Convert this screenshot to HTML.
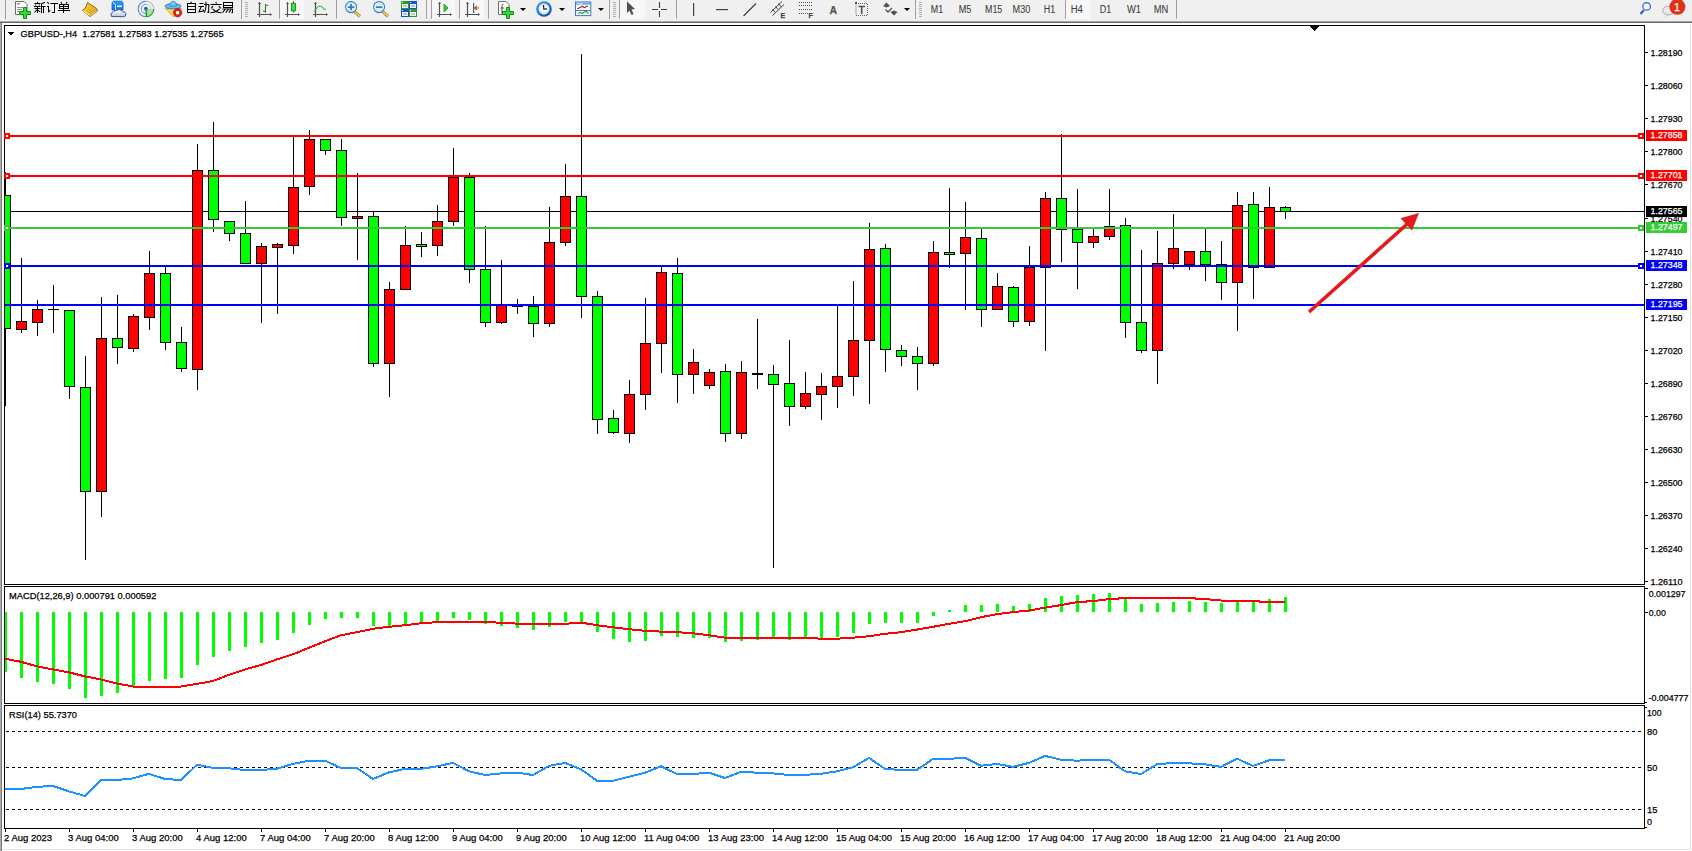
<!DOCTYPE html><html><head><meta charset="utf-8"><style>html,body{margin:0;padding:0;background:#fff;width:1692px;height:851px;overflow:hidden}svg{display:block}text{font-family:"Liberation Sans",sans-serif;stroke-width:0.25px}</style></head><body>
<svg stroke-linejoin="miter" width="1692" height="851" viewBox="0 0 1692 851" shape-rendering="crispEdges">
<rect x="0" y="0" width="1692" height="851" fill="#ffffff"/>
<rect x="0" y="0" width="1692" height="21" fill="#f0f0f0"/>
<rect x="0" y="21" width="1692" height="1" fill="#a8a8a8"/>
<rect x="0" y="22" width="1692" height="1" fill="#6a6a6a"/>
<rect x="0" y="23" width="1" height="828" fill="#aaaaaa"/><rect x="1" y="23" width="1" height="828" fill="#7c7c7c"/>
<rect x="1690" y="23" width="1" height="827" fill="#e3e3e3"/>
<rect x="2" y="849" width="1689" height="1" fill="#e3e3e3"/>
<rect x="4" y="25" width="1641" height="1" fill="#000"/>
<rect x="4" y="584" width="1641" height="1" fill="#000"/>
<rect x="4" y="25" width="1" height="560" fill="#000"/>
<rect x="1644" y="25" width="1" height="560" fill="#000"/>
<rect x="4" y="586" width="1641" height="1" fill="#000"/>
<rect x="4" y="703" width="1641" height="1" fill="#000"/>
<rect x="4" y="586" width="1" height="118" fill="#000"/>
<rect x="1644" y="586" width="1" height="118" fill="#000"/>
<rect x="4" y="705" width="1641" height="1" fill="#000"/>
<rect x="4" y="828" width="1641" height="1" fill="#000"/>
<rect x="4" y="705" width="1" height="124" fill="#000"/>
<rect x="1644" y="705" width="1" height="124" fill="#000"/>
<rect x="5" y="211" width="1639" height="1" fill="#000000"/>
<g>
<rect x="5" y="172" width="1" height="234" fill="#000"/>
<rect x="0" y="195" width="11" height="134" fill="#000"/>
<rect x="1" y="196" width="9" height="132" fill="#00ff00"/>
<rect x="21" y="258" width="1" height="75" fill="#000"/>
<rect x="16" y="321" width="11" height="9" fill="#000"/>
<rect x="17" y="322" width="9" height="7" fill="#ff0000"/>
<rect x="37" y="300" width="1" height="36" fill="#000"/>
<rect x="32" y="309" width="11" height="14" fill="#000"/>
<rect x="33" y="310" width="9" height="12" fill="#ff0000"/>
<rect x="53" y="285" width="1" height="48" fill="#000"/>
<rect x="48" y="309" width="11" height="1" fill="#000"/>
<rect x="69" y="310" width="1" height="89" fill="#000"/>
<rect x="64" y="310" width="11" height="77" fill="#000"/>
<rect x="65" y="311" width="9" height="75" fill="#00ff00"/>
<rect x="85" y="356" width="1" height="204" fill="#000"/>
<rect x="80" y="387" width="11" height="105" fill="#000"/>
<rect x="81" y="388" width="9" height="103" fill="#00ff00"/>
<rect x="101" y="297" width="1" height="220" fill="#000"/>
<rect x="96" y="338" width="11" height="154" fill="#000"/>
<rect x="97" y="339" width="9" height="152" fill="#ff0000"/>
<rect x="117" y="295" width="1" height="69" fill="#000"/>
<rect x="112" y="338" width="11" height="10" fill="#000"/>
<rect x="113" y="339" width="9" height="8" fill="#00ff00"/>
<rect x="133" y="314" width="1" height="38" fill="#000"/>
<rect x="128" y="316" width="11" height="33" fill="#000"/>
<rect x="129" y="317" width="9" height="31" fill="#ff0000"/>
<rect x="149" y="251" width="1" height="79" fill="#000"/>
<rect x="144" y="273" width="11" height="45" fill="#000"/>
<rect x="145" y="274" width="9" height="43" fill="#ff0000"/>
<rect x="165" y="266" width="1" height="84" fill="#000"/>
<rect x="160" y="273" width="11" height="70" fill="#000"/>
<rect x="161" y="274" width="9" height="68" fill="#00ff00"/>
<rect x="181" y="327" width="1" height="45" fill="#000"/>
<rect x="176" y="342" width="11" height="27" fill="#000"/>
<rect x="177" y="343" width="9" height="25" fill="#00ff00"/>
<rect x="197" y="144" width="1" height="246" fill="#000"/>
<rect x="192" y="170" width="11" height="200" fill="#000"/>
<rect x="193" y="171" width="9" height="198" fill="#ff0000"/>
<rect x="213" y="122" width="1" height="110" fill="#000"/>
<rect x="208" y="170" width="11" height="50" fill="#000"/>
<rect x="209" y="171" width="9" height="48" fill="#00ff00"/>
<rect x="229" y="221" width="1" height="20" fill="#000"/>
<rect x="224" y="221" width="11" height="13" fill="#000"/>
<rect x="225" y="222" width="9" height="11" fill="#00ff00"/>
<rect x="245" y="201" width="1" height="63" fill="#000"/>
<rect x="240" y="233" width="11" height="31" fill="#000"/>
<rect x="241" y="234" width="9" height="29" fill="#00ff00"/>
<rect x="261" y="243" width="1" height="80" fill="#000"/>
<rect x="256" y="246" width="11" height="18" fill="#000"/>
<rect x="257" y="247" width="9" height="16" fill="#ff0000"/>
<rect x="277" y="243" width="1" height="71" fill="#000"/>
<rect x="272" y="244" width="11" height="4" fill="#000"/>
<rect x="273" y="245" width="9" height="2" fill="#ff0000"/>
<rect x="293" y="136" width="1" height="118" fill="#000"/>
<rect x="288" y="187" width="11" height="59" fill="#000"/>
<rect x="289" y="188" width="9" height="57" fill="#ff0000"/>
<rect x="309" y="130" width="1" height="65" fill="#000"/>
<rect x="304" y="139" width="11" height="48" fill="#000"/>
<rect x="305" y="140" width="9" height="46" fill="#ff0000"/>
<rect x="325" y="139" width="1" height="16" fill="#000"/>
<rect x="320" y="139" width="11" height="12" fill="#000"/>
<rect x="321" y="140" width="9" height="10" fill="#00ff00"/>
<rect x="341" y="139" width="1" height="87" fill="#000"/>
<rect x="336" y="150" width="11" height="68" fill="#000"/>
<rect x="337" y="151" width="9" height="66" fill="#00ff00"/>
<rect x="357" y="173" width="1" height="87" fill="#000"/>
<rect x="352" y="216" width="11" height="3" fill="#000"/>
<rect x="353" y="217" width="9" height="1" fill="#ff0000"/>
<rect x="373" y="212" width="1" height="155" fill="#000"/>
<rect x="368" y="216" width="11" height="148" fill="#000"/>
<rect x="369" y="217" width="9" height="146" fill="#00ff00"/>
<rect x="389" y="282" width="1" height="115" fill="#000"/>
<rect x="384" y="289" width="11" height="75" fill="#000"/>
<rect x="385" y="290" width="9" height="73" fill="#ff0000"/>
<rect x="405" y="226" width="1" height="64" fill="#000"/>
<rect x="400" y="245" width="11" height="45" fill="#000"/>
<rect x="401" y="246" width="9" height="43" fill="#ff0000"/>
<rect x="421" y="232" width="1" height="25" fill="#000"/>
<rect x="416" y="244" width="11" height="3" fill="#000"/>
<rect x="417" y="245" width="9" height="1" fill="#00ff00"/>
<rect x="437" y="205" width="1" height="51" fill="#000"/>
<rect x="432" y="221" width="11" height="25" fill="#000"/>
<rect x="433" y="222" width="9" height="23" fill="#ff0000"/>
<rect x="453" y="148" width="1" height="78" fill="#000"/>
<rect x="448" y="177" width="11" height="45" fill="#000"/>
<rect x="449" y="178" width="9" height="43" fill="#ff0000"/>
<rect x="469" y="173" width="1" height="110" fill="#000"/>
<rect x="464" y="177" width="11" height="93" fill="#000"/>
<rect x="465" y="178" width="9" height="91" fill="#00ff00"/>
<rect x="485" y="226" width="1" height="101" fill="#000"/>
<rect x="480" y="269" width="11" height="54" fill="#000"/>
<rect x="481" y="270" width="9" height="52" fill="#00ff00"/>
<rect x="501" y="260" width="1" height="64" fill="#000"/>
<rect x="496" y="305" width="11" height="18" fill="#000"/>
<rect x="497" y="306" width="9" height="16" fill="#ff0000"/>
<rect x="517" y="299" width="1" height="15" fill="#000"/>
<rect x="512" y="306" width="11" height="1" fill="#000"/>
<rect x="533" y="296" width="1" height="41" fill="#000"/>
<rect x="528" y="306" width="11" height="18" fill="#000"/>
<rect x="529" y="307" width="9" height="16" fill="#00ff00"/>
<rect x="549" y="207" width="1" height="120" fill="#000"/>
<rect x="544" y="242" width="11" height="82" fill="#000"/>
<rect x="545" y="243" width="9" height="80" fill="#ff0000"/>
<rect x="565" y="164" width="1" height="82" fill="#000"/>
<rect x="560" y="196" width="11" height="47" fill="#000"/>
<rect x="561" y="197" width="9" height="45" fill="#ff0000"/>
<rect x="581" y="54" width="1" height="264" fill="#000"/>
<rect x="576" y="196" width="11" height="101" fill="#000"/>
<rect x="577" y="197" width="9" height="99" fill="#00ff00"/>
<rect x="597" y="291" width="1" height="143" fill="#000"/>
<rect x="592" y="296" width="11" height="124" fill="#000"/>
<rect x="593" y="297" width="9" height="122" fill="#00ff00"/>
<rect x="613" y="410" width="1" height="24" fill="#000"/>
<rect x="608" y="418" width="11" height="15" fill="#000"/>
<rect x="609" y="419" width="9" height="13" fill="#00ff00"/>
<rect x="629" y="380" width="1" height="63" fill="#000"/>
<rect x="624" y="394" width="11" height="40" fill="#000"/>
<rect x="625" y="395" width="9" height="38" fill="#ff0000"/>
<rect x="645" y="298" width="1" height="112" fill="#000"/>
<rect x="640" y="343" width="11" height="52" fill="#000"/>
<rect x="641" y="344" width="9" height="50" fill="#ff0000"/>
<rect x="661" y="266" width="1" height="107" fill="#000"/>
<rect x="656" y="272" width="11" height="72" fill="#000"/>
<rect x="657" y="273" width="9" height="70" fill="#ff0000"/>
<rect x="677" y="258" width="1" height="145" fill="#000"/>
<rect x="672" y="273" width="11" height="102" fill="#000"/>
<rect x="673" y="274" width="9" height="100" fill="#00ff00"/>
<rect x="693" y="349" width="1" height="45" fill="#000"/>
<rect x="688" y="362" width="11" height="13" fill="#000"/>
<rect x="689" y="363" width="9" height="11" fill="#ff0000"/>
<rect x="709" y="369" width="1" height="20" fill="#000"/>
<rect x="704" y="372" width="11" height="14" fill="#000"/>
<rect x="705" y="373" width="9" height="12" fill="#ff0000"/>
<rect x="725" y="364" width="1" height="78" fill="#000"/>
<rect x="720" y="371" width="11" height="63" fill="#000"/>
<rect x="721" y="372" width="9" height="61" fill="#00ff00"/>
<rect x="741" y="361" width="1" height="78" fill="#000"/>
<rect x="736" y="372" width="11" height="62" fill="#000"/>
<rect x="737" y="373" width="9" height="60" fill="#ff0000"/>
<rect x="757" y="319" width="1" height="70" fill="#000"/>
<rect x="752" y="373" width="11" height="2" fill="#000"/>
<rect x="773" y="365" width="1" height="203" fill="#000"/>
<rect x="768" y="374" width="11" height="11" fill="#000"/>
<rect x="769" y="375" width="9" height="9" fill="#00ff00"/>
<rect x="789" y="340" width="1" height="86" fill="#000"/>
<rect x="784" y="383" width="11" height="24" fill="#000"/>
<rect x="785" y="384" width="9" height="22" fill="#00ff00"/>
<rect x="805" y="372" width="1" height="37" fill="#000"/>
<rect x="800" y="393" width="11" height="14" fill="#000"/>
<rect x="801" y="394" width="9" height="12" fill="#ff0000"/>
<rect x="821" y="373" width="1" height="47" fill="#000"/>
<rect x="816" y="386" width="11" height="9" fill="#000"/>
<rect x="817" y="387" width="9" height="7" fill="#ff0000"/>
<rect x="837" y="306" width="1" height="102" fill="#000"/>
<rect x="832" y="376" width="11" height="11" fill="#000"/>
<rect x="833" y="377" width="9" height="9" fill="#ff0000"/>
<rect x="853" y="281" width="1" height="115" fill="#000"/>
<rect x="848" y="340" width="11" height="37" fill="#000"/>
<rect x="849" y="341" width="9" height="35" fill="#ff0000"/>
<rect x="869" y="223" width="1" height="181" fill="#000"/>
<rect x="864" y="249" width="11" height="92" fill="#000"/>
<rect x="865" y="250" width="9" height="90" fill="#ff0000"/>
<rect x="885" y="244" width="1" height="128" fill="#000"/>
<rect x="880" y="248" width="11" height="102" fill="#000"/>
<rect x="881" y="249" width="9" height="100" fill="#00ff00"/>
<rect x="901" y="345" width="1" height="21" fill="#000"/>
<rect x="896" y="350" width="11" height="7" fill="#000"/>
<rect x="897" y="351" width="9" height="5" fill="#00ff00"/>
<rect x="917" y="347" width="1" height="43" fill="#000"/>
<rect x="912" y="356" width="11" height="8" fill="#000"/>
<rect x="913" y="357" width="9" height="6" fill="#00ff00"/>
<rect x="933" y="241" width="1" height="125" fill="#000"/>
<rect x="928" y="252" width="11" height="112" fill="#000"/>
<rect x="929" y="253" width="9" height="110" fill="#ff0000"/>
<rect x="949" y="188" width="1" height="80" fill="#000"/>
<rect x="944" y="252" width="11" height="3" fill="#000"/>
<rect x="945" y="253" width="9" height="1" fill="#00ff00"/>
<rect x="965" y="202" width="1" height="108" fill="#000"/>
<rect x="960" y="237" width="11" height="17" fill="#000"/>
<rect x="961" y="238" width="9" height="15" fill="#ff0000"/>
<rect x="981" y="229" width="1" height="98" fill="#000"/>
<rect x="976" y="238" width="11" height="72" fill="#000"/>
<rect x="977" y="239" width="9" height="70" fill="#00ff00"/>
<rect x="997" y="273" width="1" height="36" fill="#000"/>
<rect x="992" y="286" width="11" height="24" fill="#000"/>
<rect x="993" y="287" width="9" height="22" fill="#ff0000"/>
<rect x="1013" y="286" width="1" height="41" fill="#000"/>
<rect x="1008" y="287" width="11" height="35" fill="#000"/>
<rect x="1009" y="288" width="9" height="33" fill="#00ff00"/>
<rect x="1029" y="246" width="1" height="80" fill="#000"/>
<rect x="1024" y="267" width="11" height="55" fill="#000"/>
<rect x="1025" y="268" width="9" height="53" fill="#ff0000"/>
<rect x="1045" y="192" width="1" height="159" fill="#000"/>
<rect x="1040" y="198" width="11" height="70" fill="#000"/>
<rect x="1041" y="199" width="9" height="68" fill="#ff0000"/>
<rect x="1061" y="134" width="1" height="128" fill="#000"/>
<rect x="1056" y="198" width="11" height="32" fill="#000"/>
<rect x="1057" y="199" width="9" height="30" fill="#00ff00"/>
<rect x="1077" y="189" width="1" height="100" fill="#000"/>
<rect x="1072" y="229" width="11" height="14" fill="#000"/>
<rect x="1073" y="230" width="9" height="12" fill="#00ff00"/>
<rect x="1093" y="229" width="1" height="19" fill="#000"/>
<rect x="1088" y="236" width="11" height="7" fill="#000"/>
<rect x="1089" y="237" width="9" height="5" fill="#ff0000"/>
<rect x="1109" y="189" width="1" height="51" fill="#000"/>
<rect x="1104" y="226" width="11" height="11" fill="#000"/>
<rect x="1105" y="227" width="9" height="9" fill="#ff0000"/>
<rect x="1125" y="218" width="1" height="120" fill="#000"/>
<rect x="1120" y="225" width="11" height="98" fill="#000"/>
<rect x="1121" y="226" width="9" height="96" fill="#00ff00"/>
<rect x="1141" y="250" width="1" height="103" fill="#000"/>
<rect x="1136" y="322" width="11" height="29" fill="#000"/>
<rect x="1137" y="323" width="9" height="27" fill="#00ff00"/>
<rect x="1157" y="231" width="1" height="153" fill="#000"/>
<rect x="1152" y="263" width="11" height="88" fill="#000"/>
<rect x="1153" y="264" width="9" height="86" fill="#ff0000"/>
<rect x="1173" y="214" width="1" height="55" fill="#000"/>
<rect x="1168" y="248" width="11" height="16" fill="#000"/>
<rect x="1169" y="249" width="9" height="14" fill="#ff0000"/>
<rect x="1189" y="251" width="1" height="19" fill="#000"/>
<rect x="1184" y="251" width="11" height="14" fill="#000"/>
<rect x="1185" y="252" width="9" height="12" fill="#ff0000"/>
<rect x="1205" y="229" width="1" height="52" fill="#000"/>
<rect x="1200" y="251" width="11" height="14" fill="#000"/>
<rect x="1201" y="252" width="9" height="12" fill="#00ff00"/>
<rect x="1221" y="241" width="1" height="59" fill="#000"/>
<rect x="1216" y="264" width="11" height="19" fill="#000"/>
<rect x="1217" y="265" width="9" height="17" fill="#00ff00"/>
<rect x="1237" y="192" width="1" height="139" fill="#000"/>
<rect x="1232" y="205" width="11" height="78" fill="#000"/>
<rect x="1233" y="206" width="9" height="76" fill="#ff0000"/>
<rect x="1253" y="192" width="1" height="107" fill="#000"/>
<rect x="1248" y="204" width="11" height="64" fill="#000"/>
<rect x="1249" y="205" width="9" height="62" fill="#00ff00"/>
<rect x="1269" y="187" width="1" height="80" fill="#000"/>
<rect x="1264" y="207" width="11" height="61" fill="#000"/>
<rect x="1265" y="208" width="9" height="59" fill="#ff0000"/>
<rect x="1285" y="206" width="1" height="13" fill="#000"/>
<rect x="1280" y="207" width="11" height="5" fill="#000"/>
<rect x="1281" y="208" width="9" height="3" fill="#00ff00"/>
</g>
<rect x="0" y="25" width="4" height="560" fill="#fff"/>
<rect x="0" y="23" width="1" height="828" fill="#aaaaaa"/><rect x="1" y="23" width="1" height="828" fill="#7c7c7c"/>
<rect x="4" y="25" width="1" height="560" fill="#000"/>
<rect x="5" y="135" width="1639" height="2" fill="#ff0000"/>
<rect x="5" y="175" width="1639" height="2" fill="#ff0000"/>
<rect x="5" y="227" width="1639" height="2" fill="#32cd32"/>
<rect x="5" y="265" width="1639" height="2" fill="#0000ff"/>
<rect x="5" y="304" width="1639" height="2" fill="#0000ff"/>
<rect x="1638" y="133" width="6" height="6" fill="#ff0000"/><rect x="1640" y="135" width="2" height="2" fill="#fff"/>
<rect x="4" y="133" width="6" height="6" fill="#ff0000"/><rect x="6" y="135" width="2" height="2" fill="#fff"/>
<rect x="1638" y="173" width="6" height="6" fill="#ff0000"/><rect x="1640" y="175" width="2" height="2" fill="#fff"/>
<rect x="4" y="173" width="6" height="6" fill="#ff0000"/><rect x="6" y="175" width="2" height="2" fill="#fff"/>
<rect x="1638" y="225" width="6" height="6" fill="#32cd32"/><rect x="1640" y="227" width="2" height="2" fill="#fff"/>
<rect x="4" y="225" width="6" height="6" fill="#32cd32"/><rect x="6" y="227" width="2" height="2" fill="#fff"/>
<rect x="1638" y="263" width="6" height="6" fill="#0000ff"/><rect x="1640" y="265" width="2" height="2" fill="#fff"/>
<rect x="4" y="263" width="6" height="6" fill="#0000ff"/><rect x="6" y="265" width="2" height="2" fill="#fff"/>
<g shape-rendering="geometricPrecision">
<line x1="1309" y1="312" x2="1410" y2="221.5" stroke="#e41a1c" stroke-width="3.6"/>
<polygon points="1419,213 1400.5,218.2 1412,230.6" fill="#e41a1c"/>
</g>
<g font-size="10.5" fill="#000">
<rect x="1645" y="52" width="3" height="1" fill="#000"/>
<text x="1650.5" y="55.6" font-size="9.6" textLength="32" lengthAdjust="spacingAndGlyphs" stroke="#000">1.28190</text>
<rect x="1645" y="85" width="3" height="1" fill="#000"/>
<text x="1650.5" y="88.6" font-size="9.6" textLength="32" lengthAdjust="spacingAndGlyphs" stroke="#000">1.28060</text>
<rect x="1645" y="118" width="3" height="1" fill="#000"/>
<text x="1650.5" y="121.6" font-size="9.6" textLength="32" lengthAdjust="spacingAndGlyphs" stroke="#000">1.27930</text>
<rect x="1645" y="151" width="3" height="1" fill="#000"/>
<text x="1650.5" y="154.6" font-size="9.6" textLength="32" lengthAdjust="spacingAndGlyphs" stroke="#000">1.27800</text>
<rect x="1645" y="184" width="3" height="1" fill="#000"/>
<text x="1650.5" y="187.6" font-size="9.6" textLength="32" lengthAdjust="spacingAndGlyphs" stroke="#000">1.27670</text>
<rect x="1645" y="218" width="3" height="1" fill="#000"/>
<text x="1650.5" y="221.6" font-size="9.6" textLength="32" lengthAdjust="spacingAndGlyphs" stroke="#000">1.27540</text>
<rect x="1645" y="251" width="3" height="1" fill="#000"/>
<text x="1650.5" y="254.6" font-size="9.6" textLength="32" lengthAdjust="spacingAndGlyphs" stroke="#000">1.27410</text>
<rect x="1645" y="284" width="3" height="1" fill="#000"/>
<text x="1650.5" y="287.6" font-size="9.6" textLength="32" lengthAdjust="spacingAndGlyphs" stroke="#000">1.27280</text>
<rect x="1645" y="317" width="3" height="1" fill="#000"/>
<text x="1650.5" y="320.6" font-size="9.6" textLength="32" lengthAdjust="spacingAndGlyphs" stroke="#000">1.27150</text>
<rect x="1645" y="350" width="3" height="1" fill="#000"/>
<text x="1650.5" y="353.6" font-size="9.6" textLength="32" lengthAdjust="spacingAndGlyphs" stroke="#000">1.27020</text>
<rect x="1645" y="383" width="3" height="1" fill="#000"/>
<text x="1650.5" y="386.6" font-size="9.6" textLength="32" lengthAdjust="spacingAndGlyphs" stroke="#000">1.26890</text>
<rect x="1645" y="416" width="3" height="1" fill="#000"/>
<text x="1650.5" y="419.6" font-size="9.6" textLength="32" lengthAdjust="spacingAndGlyphs" stroke="#000">1.26760</text>
<rect x="1645" y="449" width="3" height="1" fill="#000"/>
<text x="1650.5" y="452.6" font-size="9.6" textLength="32" lengthAdjust="spacingAndGlyphs" stroke="#000">1.26630</text>
<rect x="1645" y="482" width="3" height="1" fill="#000"/>
<text x="1650.5" y="485.6" font-size="9.6" textLength="32" lengthAdjust="spacingAndGlyphs" stroke="#000">1.26500</text>
<rect x="1645" y="515" width="3" height="1" fill="#000"/>
<text x="1650.5" y="518.6" font-size="9.6" textLength="32" lengthAdjust="spacingAndGlyphs" stroke="#000">1.26370</text>
<rect x="1645" y="548" width="3" height="1" fill="#000"/>
<text x="1650.5" y="551.6" font-size="9.6" textLength="32" lengthAdjust="spacingAndGlyphs" stroke="#000">1.26240</text>
<rect x="1645" y="581" width="3" height="1" fill="#000"/>
<text x="1650.5" y="584.6" font-size="9.6" textLength="32" lengthAdjust="spacingAndGlyphs" stroke="#000">1.26110</text>
</g>
<rect x="1646" y="130" width="41" height="11" fill="#ff0000"/>
<text x="1650.5" y="138.3" font-size="9.6" fill="#fff" textLength="32" lengthAdjust="spacingAndGlyphs" stroke="#fff">1.27858</text>
<rect x="1646" y="170" width="41" height="11" fill="#ff0000"/>
<text x="1650.5" y="178.3" font-size="9.6" fill="#fff" textLength="32" lengthAdjust="spacingAndGlyphs" stroke="#fff">1.27701</text>
<rect x="1646" y="206" width="41" height="11" fill="#000000"/>
<text x="1650.5" y="214.3" font-size="9.6" fill="#fff" textLength="32" lengthAdjust="spacingAndGlyphs" stroke="#fff">1.27565</text>
<rect x="1646" y="222" width="41" height="11" fill="#32cd32"/>
<text x="1650.5" y="230.3" font-size="9.6" fill="#fff" textLength="32" lengthAdjust="spacingAndGlyphs" stroke="#fff">1.27497</text>
<rect x="1646" y="260" width="41" height="11" fill="#0000ff"/>
<text x="1650.5" y="268.3" font-size="9.6" fill="#fff" textLength="32" lengthAdjust="spacingAndGlyphs" stroke="#fff">1.27348</text>
<rect x="1646" y="299" width="41" height="11" fill="#0000ff"/>
<text x="1650.5" y="307.3" font-size="9.6" fill="#fff" textLength="32" lengthAdjust="spacingAndGlyphs" stroke="#fff">1.27195</text>
<polygon points="8,32 14,32 11,36" fill="#000"/>
<text x="20.6" y="36.8" font-size="9.6" fill="#000" textLength="203" lengthAdjust="spacingAndGlyphs" stroke="#000">GBPUSD-,H4&#160;&#160;1.27581 1.27583 1.27535 1.27565</text>
<polygon points="1310,26 1319,26 1314.5,31" fill="#000"/>
<rect x="4" y="612" width="3" height="60" fill="#00ff00"/>
<rect x="20" y="612" width="3" height="66" fill="#00ff00"/>
<rect x="36" y="612" width="3" height="70" fill="#00ff00"/>
<rect x="52" y="612" width="3" height="72" fill="#00ff00"/>
<rect x="68" y="612" width="3" height="77" fill="#00ff00"/>
<rect x="84" y="612" width="3" height="86" fill="#00ff00"/>
<rect x="100" y="612" width="3" height="84" fill="#00ff00"/>
<rect x="116" y="612" width="3" height="81" fill="#00ff00"/>
<rect x="132" y="612" width="3" height="75" fill="#00ff00"/>
<rect x="148" y="612" width="3" height="69" fill="#00ff00"/>
<rect x="164" y="612" width="3" height="67" fill="#00ff00"/>
<rect x="180" y="612" width="3" height="66" fill="#00ff00"/>
<rect x="196" y="612" width="3" height="53" fill="#00ff00"/>
<rect x="212" y="612" width="3" height="45" fill="#00ff00"/>
<rect x="228" y="612" width="3" height="39" fill="#00ff00"/>
<rect x="244" y="612" width="3" height="35" fill="#00ff00"/>
<rect x="260" y="612" width="3" height="31" fill="#00ff00"/>
<rect x="276" y="612" width="3" height="28" fill="#00ff00"/>
<rect x="292" y="612" width="3" height="21" fill="#00ff00"/>
<rect x="308" y="612" width="3" height="13" fill="#00ff00"/>
<rect x="324" y="612" width="3" height="7" fill="#00ff00"/>
<rect x="340" y="612" width="3" height="6" fill="#00ff00"/>
<rect x="356" y="612" width="3" height="6" fill="#00ff00"/>
<rect x="372" y="612" width="3" height="14" fill="#00ff00"/>
<rect x="388" y="612" width="3" height="15" fill="#00ff00"/>
<rect x="404" y="612" width="3" height="13" fill="#00ff00"/>
<rect x="420" y="612" width="3" height="11" fill="#00ff00"/>
<rect x="436" y="612" width="3" height="10" fill="#00ff00"/>
<rect x="452" y="612" width="3" height="6" fill="#00ff00"/>
<rect x="468" y="612" width="3" height="8" fill="#00ff00"/>
<rect x="484" y="612" width="3" height="12" fill="#00ff00"/>
<rect x="500" y="612" width="3" height="14" fill="#00ff00"/>
<rect x="516" y="612" width="3" height="16" fill="#00ff00"/>
<rect x="532" y="612" width="3" height="18" fill="#00ff00"/>
<rect x="548" y="612" width="3" height="15" fill="#00ff00"/>
<rect x="564" y="612" width="3" height="10" fill="#00ff00"/>
<rect x="580" y="612" width="3" height="10" fill="#00ff00"/>
<rect x="596" y="612" width="3" height="20" fill="#00ff00"/>
<rect x="612" y="612" width="3" height="27" fill="#00ff00"/>
<rect x="628" y="612" width="3" height="30" fill="#00ff00"/>
<rect x="644" y="612" width="3" height="29" fill="#00ff00"/>
<rect x="660" y="612" width="3" height="24" fill="#00ff00"/>
<rect x="676" y="612" width="3" height="25" fill="#00ff00"/>
<rect x="692" y="612" width="3" height="26" fill="#00ff00"/>
<rect x="708" y="612" width="3" height="26" fill="#00ff00"/>
<rect x="724" y="612" width="3" height="30" fill="#00ff00"/>
<rect x="740" y="612" width="3" height="29" fill="#00ff00"/>
<rect x="756" y="612" width="3" height="28" fill="#00ff00"/>
<rect x="772" y="612" width="3" height="26" fill="#00ff00"/>
<rect x="788" y="612" width="3" height="28" fill="#00ff00"/>
<rect x="804" y="612" width="3" height="27" fill="#00ff00"/>
<rect x="820" y="612" width="3" height="27" fill="#00ff00"/>
<rect x="836" y="612" width="3" height="25" fill="#00ff00"/>
<rect x="852" y="612" width="3" height="21" fill="#00ff00"/>
<rect x="868" y="612" width="3" height="12" fill="#00ff00"/>
<rect x="884" y="612" width="3" height="11" fill="#00ff00"/>
<rect x="900" y="612" width="3" height="11" fill="#00ff00"/>
<rect x="916" y="612" width="3" height="11" fill="#00ff00"/>
<rect x="932" y="612" width="3" height="4" fill="#00ff00"/>
<rect x="948" y="610" width="3" height="2" fill="#00ff00"/>
<rect x="964" y="605" width="3" height="7" fill="#00ff00"/>
<rect x="980" y="605" width="3" height="7" fill="#00ff00"/>
<rect x="996" y="604" width="3" height="8" fill="#00ff00"/>
<rect x="1012" y="606" width="3" height="6" fill="#00ff00"/>
<rect x="1028" y="604" width="3" height="8" fill="#00ff00"/>
<rect x="1044" y="598" width="3" height="14" fill="#00ff00"/>
<rect x="1060" y="596" width="3" height="16" fill="#00ff00"/>
<rect x="1076" y="595" width="3" height="17" fill="#00ff00"/>
<rect x="1092" y="594" width="3" height="18" fill="#00ff00"/>
<rect x="1108" y="593" width="3" height="19" fill="#00ff00"/>
<rect x="1124" y="599" width="3" height="13" fill="#00ff00"/>
<rect x="1140" y="604" width="3" height="8" fill="#00ff00"/>
<rect x="1156" y="603" width="3" height="9" fill="#00ff00"/>
<rect x="1172" y="602" width="3" height="10" fill="#00ff00"/>
<rect x="1188" y="601" width="3" height="11" fill="#00ff00"/>
<rect x="1204" y="602" width="3" height="10" fill="#00ff00"/>
<rect x="1220" y="603" width="3" height="9" fill="#00ff00"/>
<rect x="1236" y="602" width="3" height="10" fill="#00ff00"/>
<rect x="1252" y="602" width="3" height="10" fill="#00ff00"/>
<rect x="1268" y="599" width="3" height="13" fill="#00ff00"/>
<rect x="1284" y="597" width="3" height="15" fill="#00ff00"/>
<polyline points="5,658.8 21,661.8 37,666.4 53,669.4 69,672.4 85,676.4 101,679.5 117,683.5 133,686.5 181,686.5 197,683.9 213,681.0 229,674.8 245,669.4 261,665.0 277,659.4 293,654.3 309,647.7 325,641.3 341,635.2 357,632.2 373,628.8 389,626.8 405,625.2 421,623.2 437,622.2 453,621.8 485,621.8 501,622.8 517,623.6 533,623.8 565,623.8 581,622.6 597,625.2 613,627.2 629,629.2 645,630.8 661,631.6 677,632.2 693,633.2 709,635.2 725,637.7 805,637.7 821,638.7 837,638.7 853,637.7 869,636.2 885,633.8 901,632.2 917,629.6 933,626.8 949,623.8 965,621.2 981,617.2 997,614.1 1013,612.1 1029,610.5 1045,607.7 1061,605.1 1077,602.1 1093,601.1 1109,599.1 1125,598.1 1189,598.1 1205,599.1 1221,600.5 1237,601.1 1253,601.1 1269,602.1 1285,602.1" fill="none" stroke="#ff0000" stroke-width="2" shape-rendering="crispEdges"/>
<rect x="0" y="586" width="4" height="118" fill="#fff"/><rect x="0" y="23" width="1" height="828" fill="#aaaaaa"/><rect x="1" y="23" width="1" height="828" fill="#7c7c7c"/><rect x="4" y="586" width="1" height="118" fill="#000"/>
<text x="9" y="598.8" font-size="9.6" fill="#000" textLength="147.4" lengthAdjust="spacingAndGlyphs" stroke="#000">MACD(12,26,9) 0.000791 0.000592</text>
<rect x="1645" y="588" width="3" height="1" fill="#000"/><text x="1648.8" y="596.8" font-size="9.6" textLength="36.6" lengthAdjust="spacingAndGlyphs" stroke="#000">0.001297</text>
<rect x="1645" y="612" width="3" height="1" fill="#000"/><text x="1648.8" y="615.8" font-size="9.6" textLength="17" lengthAdjust="spacingAndGlyphs" stroke="#000">0.00</text>
<text x="1648.5" y="700.6" font-size="9.6" textLength="40" lengthAdjust="spacingAndGlyphs" stroke="#000">-0.004777</text>
<line x1="6" y1="731.5" x2="1642" y2="731.5" stroke="#000" stroke-width="1" stroke-dasharray="3,3"/>
<line x1="6" y1="767.5" x2="1642" y2="767.5" stroke="#000" stroke-width="1" stroke-dasharray="3,3"/>
<line x1="6" y1="809.5" x2="1642" y2="809.5" stroke="#000" stroke-width="1" stroke-dasharray="3,3"/>
<polyline points="5,789.0 21,789.0 37,786.8 53,786.0 69,791.4 85,796.0 101,780.0 117,780.0 133,778.4 149,773.8 165,779.0 181,780.0 197,764.7 213,768.0 229,768.3 245,770.0 261,770.0 277,768.7 293,763.9 309,760.7 325,760.7 341,768.0 357,768.0 373,779.0 389,772.3 405,768.9 421,768.9 437,766.3 453,762.9 469,771.3 485,775.0 501,773.4 517,772.7 533,775.0 549,765.9 565,762.9 581,769.3 597,780.8 613,780.8 629,776.8 645,772.7 661,766.3 677,774.0 693,774.0 709,772.7 725,778.0 741,771.7 757,772.7 773,773.4 789,775.0 805,774.8 821,773.8 837,771.3 853,767.3 869,757.9 885,768.9 901,770.0 917,770.0 933,758.9 949,758.9 965,757.7 981,765.7 997,763.9 1013,766.9 1029,762.9 1045,755.9 1061,759.7 1077,760.7 1093,759.7 1109,759.7 1125,771.3 1141,774.0 1157,764.3 1173,762.9 1189,763.3 1205,764.3 1221,766.9 1237,758.7 1253,765.9 1269,760.3 1285,759.9" fill="none" stroke="#1e90ff" stroke-width="2" shape-rendering="crispEdges"/>
<text x="9" y="718" font-size="9.6" fill="#000" textLength="68" lengthAdjust="spacingAndGlyphs" stroke="#000">RSI(14) 55.7370</text>
<text x="1647" y="716.1" font-size="9.6" textLength="14.5" lengthAdjust="spacingAndGlyphs" stroke="#000">100</text>
<text x="1647" y="735.1" font-size="9.6" textLength="10.3" lengthAdjust="spacingAndGlyphs" stroke="#000">80</text>
<text x="1647" y="771.0" font-size="9.6" textLength="10.3" lengthAdjust="spacingAndGlyphs" stroke="#000">50</text>
<text x="1647" y="813.0" font-size="9.6" textLength="10.3" lengthAdjust="spacingAndGlyphs" stroke="#000">15</text>
<text x="1647" y="824.9" font-size="9.6" textLength="5" lengthAdjust="spacingAndGlyphs" stroke="#000">0</text>
<rect x="1645" y="707" width="2" height="1" fill="#000"/><rect x="1645" y="827" width="2" height="1" fill="#000"/><rect x="1645" y="702" width="2" height="1" fill="#000"/>
<g font-size="10.5" fill="#000">
<rect x="5" y="829" width="1" height="3" fill="#000"/>
<text x="4" y="840.8" font-size="9.6" textLength="48.1" lengthAdjust="spacingAndGlyphs" stroke="#000">2 Aug 2023</text>
<rect x="69" y="829" width="1" height="3" fill="#000"/>
<text x="68" y="840.8" font-size="9.6" textLength="50.7" lengthAdjust="spacingAndGlyphs" stroke="#000">3 Aug 04:00</text>
<rect x="133" y="829" width="1" height="3" fill="#000"/>
<text x="132" y="840.8" font-size="9.6" textLength="50.7" lengthAdjust="spacingAndGlyphs" stroke="#000">3 Aug 20:00</text>
<rect x="197" y="829" width="1" height="3" fill="#000"/>
<text x="196" y="840.8" font-size="9.6" textLength="50.7" lengthAdjust="spacingAndGlyphs" stroke="#000">4 Aug 12:00</text>
<rect x="261" y="829" width="1" height="3" fill="#000"/>
<text x="260" y="840.8" font-size="9.6" textLength="50.7" lengthAdjust="spacingAndGlyphs" stroke="#000">7 Aug 04:00</text>
<rect x="325" y="829" width="1" height="3" fill="#000"/>
<text x="324" y="840.8" font-size="9.6" textLength="50.7" lengthAdjust="spacingAndGlyphs" stroke="#000">7 Aug 20:00</text>
<rect x="389" y="829" width="1" height="3" fill="#000"/>
<text x="388" y="840.8" font-size="9.6" textLength="50.7" lengthAdjust="spacingAndGlyphs" stroke="#000">8 Aug 12:00</text>
<rect x="453" y="829" width="1" height="3" fill="#000"/>
<text x="452" y="840.8" font-size="9.6" textLength="50.7" lengthAdjust="spacingAndGlyphs" stroke="#000">9 Aug 04:00</text>
<rect x="517" y="829" width="1" height="3" fill="#000"/>
<text x="516" y="840.8" font-size="9.6" textLength="50.7" lengthAdjust="spacingAndGlyphs" stroke="#000">9 Aug 20:00</text>
<rect x="581" y="829" width="1" height="3" fill="#000"/>
<text x="580" y="840.8" font-size="9.6" textLength="56.0" lengthAdjust="spacingAndGlyphs" stroke="#000">10 Aug 12:00</text>
<rect x="645" y="829" width="1" height="3" fill="#000"/>
<text x="644" y="840.8" font-size="9.6" textLength="55.3" lengthAdjust="spacingAndGlyphs" stroke="#000">11 Aug 04:00</text>
<rect x="709" y="829" width="1" height="3" fill="#000"/>
<text x="708" y="840.8" font-size="9.6" textLength="56.0" lengthAdjust="spacingAndGlyphs" stroke="#000">13 Aug 23:00</text>
<rect x="773" y="829" width="1" height="3" fill="#000"/>
<text x="772" y="840.8" font-size="9.6" textLength="56.0" lengthAdjust="spacingAndGlyphs" stroke="#000">14 Aug 12:00</text>
<rect x="837" y="829" width="1" height="3" fill="#000"/>
<text x="836" y="840.8" font-size="9.6" textLength="56.0" lengthAdjust="spacingAndGlyphs" stroke="#000">15 Aug 04:00</text>
<rect x="901" y="829" width="1" height="3" fill="#000"/>
<text x="900" y="840.8" font-size="9.6" textLength="56.0" lengthAdjust="spacingAndGlyphs" stroke="#000">15 Aug 20:00</text>
<rect x="965" y="829" width="1" height="3" fill="#000"/>
<text x="964" y="840.8" font-size="9.6" textLength="56.0" lengthAdjust="spacingAndGlyphs" stroke="#000">16 Aug 12:00</text>
<rect x="1029" y="829" width="1" height="3" fill="#000"/>
<text x="1028" y="840.8" font-size="9.6" textLength="56.0" lengthAdjust="spacingAndGlyphs" stroke="#000">17 Aug 04:00</text>
<rect x="1093" y="829" width="1" height="3" fill="#000"/>
<text x="1092" y="840.8" font-size="9.6" textLength="56.0" lengthAdjust="spacingAndGlyphs" stroke="#000">17 Aug 20:00</text>
<rect x="1157" y="829" width="1" height="3" fill="#000"/>
<text x="1156" y="840.8" font-size="9.6" textLength="56.0" lengthAdjust="spacingAndGlyphs" stroke="#000">18 Aug 12:00</text>
<rect x="1221" y="829" width="1" height="3" fill="#000"/>
<text x="1220" y="840.8" font-size="9.6" textLength="56.0" lengthAdjust="spacingAndGlyphs" stroke="#000">21 Aug 04:00</text>
<rect x="1285" y="829" width="1" height="3" fill="#000"/>
<text x="1284" y="840.8" font-size="9.6" textLength="56.0" lengthAdjust="spacingAndGlyphs" stroke="#000">21 Aug 20:00</text>
</g>
<g shape-rendering="geometricPrecision">
<rect x="5" y="0" width="1" height="19" fill="#a0a0a0"/>
<rect x="241" y="0" width="1" height="19" fill="#a0a0a0"/>
<rect x="279" y="0" width="1" height="19" fill="#a0a0a0"/>
<rect x="336" y="0" width="1" height="19" fill="#a0a0a0"/>
<rect x="426" y="0" width="1" height="19" fill="#a0a0a0"/>
<rect x="431" y="0" width="1" height="19" fill="#a0a0a0"/>
<rect x="459" y="0" width="1" height="19" fill="#a0a0a0"/>
<rect x="488" y="0" width="1" height="19" fill="#a0a0a0"/>
<rect x="609" y="0" width="1" height="19" fill="#a0a0a0"/>
<rect x="619" y="0" width="1" height="19" fill="#a0a0a0"/>
<rect x="676" y="0" width="1" height="19" fill="#a0a0a0"/>
<rect x="915" y="0" width="1" height="19" fill="#a0a0a0"/>
<rect x="1065" y="0" width="1" height="19" fill="#a0a0a0"/>
<rect x="1176" y="0" width="1" height="19" fill="#a0a0a0"/>
<rect x="245" y="2" width="3" height="1" fill="#b0b0b0"/>
<rect x="245" y="4" width="3" height="1" fill="#b0b0b0"/>
<rect x="245" y="6" width="3" height="1" fill="#b0b0b0"/>
<rect x="245" y="8" width="3" height="1" fill="#b0b0b0"/>
<rect x="245" y="10" width="3" height="1" fill="#b0b0b0"/>
<rect x="245" y="12" width="3" height="1" fill="#b0b0b0"/>
<rect x="245" y="14" width="3" height="1" fill="#b0b0b0"/>
<rect x="245" y="16" width="3" height="1" fill="#b0b0b0"/>
<rect x="613" y="2" width="3" height="1" fill="#b0b0b0"/>
<rect x="613" y="4" width="3" height="1" fill="#b0b0b0"/>
<rect x="613" y="6" width="3" height="1" fill="#b0b0b0"/>
<rect x="613" y="8" width="3" height="1" fill="#b0b0b0"/>
<rect x="613" y="10" width="3" height="1" fill="#b0b0b0"/>
<rect x="613" y="12" width="3" height="1" fill="#b0b0b0"/>
<rect x="613" y="14" width="3" height="1" fill="#b0b0b0"/>
<rect x="613" y="16" width="3" height="1" fill="#b0b0b0"/>
<rect x="919" y="2" width="3" height="1" fill="#b0b0b0"/>
<rect x="919" y="4" width="3" height="1" fill="#b0b0b0"/>
<rect x="919" y="6" width="3" height="1" fill="#b0b0b0"/>
<rect x="919" y="8" width="3" height="1" fill="#b0b0b0"/>
<rect x="919" y="10" width="3" height="1" fill="#b0b0b0"/>
<rect x="919" y="12" width="3" height="1" fill="#b0b0b0"/>
<rect x="919" y="14" width="3" height="1" fill="#b0b0b0"/>
<rect x="919" y="16" width="3" height="1" fill="#b0b0b0"/>
<rect x="280" y="0" width="24" height="19" fill="#f7f7f7"/>
<rect x="432" y="0" width="23" height="19" fill="#f7f7f7"/>
<rect x="460" y="0" width="24" height="19" fill="#f7f7f7"/>
<rect x="620" y="0" width="25" height="19" fill="#f7f7f7"/>
<rect x="1066" y="0" width="24" height="19" fill="#f7f7f7"/>
<path d="M15.5,1.5 H24 L27,4.5 V14.5 H15.5 Z" fill="#fff" stroke="#707070" stroke-width="1"/>
<rect x="17" y="3" width="3" height="1.5" fill="#909090"/><rect x="17" y="7" width="6" height="1" fill="#909090"/><rect x="17" y="9" width="5" height="1" fill="#909090"/><rect x="17" y="11" width="3" height="1" fill="#909090"/>
<path d="M23.5,7.5 H26.5 V11.5 H30.5 V14.5 H26.5 V18.5 H23.5 V14.5 H19.5 V11.5 H23.5 Z" fill="#30e030" stroke="#108a10" stroke-width="1"/>
<path d="M37.5,2 V3 M34.5,3.5 H40.5 M35.5,4.5 L36,5.5 M39.5,4.5 L39,5.5 M34,6.5 H40.5 M34.5,8.5 H40.5 M37.5,6.5 V13 M37,9.5 L34.5,12.5 M38,10 L40,12 M45,2.3 L41.5,3.8 V13 M41.5,6.5 H45.5 M43.5,6.5 V13 M47.3,2 L48.8,3.8 M47,6.5 H48.5 V11.8 L50.2,10.2 M50.5,3.5 H58 M54.5,3.5 V12.5 H52 M60.8,2 L62,3.8 M67.2,2 L66,3.8 M59.5,4.5 H68.5 V8.5 H59.5 Z M59.5,6.5 H68.5 M63.5,4.5 V13 M58,10.5 H70 M191.5,1.8 L190.5,3.3 M187.5,3.5 H195.5 V12.5 H187.5 Z M187.5,6.5 H195.5 M187.5,9.5 H195.5 M199.5,3.5 H203.5 M198.5,6.5 H204 M201.3,6.5 L199,11.8 L204,11 M202.8,9.3 L204,11.3 M204,4.5 H208.7 V12.5 L207.2,12 M206,1.8 V6 Q205.8,10 204.3,12.7 M215.8,2 L216.5,3.5 M210.5,4.5 H221.7 M213,6.2 L211.3,8.3 M218.8,6.2 L220.7,8.3 M212.5,8.8 Q216,12.5 221.6,12.7 M219.5,8.8 Q216,12.5 210.5,12.7 M223.5,2.5 H232.5 V7.5 H223.5 Z M223.5,5.5 H232.5 M222.5,9 H232.5 V12.5 L231.3,12.8 M225.2,9.3 L222.6,12.6 M228.3,9.3 L225.8,12.6 M231,9.6 L228.8,12.6" fill="none" stroke="#000" stroke-width="1.05"/>
<defs><linearGradient id="gb" x1="0" y1="0" x2="1" y2="1"><stop offset="0" stop-color="#f7dc5a"/><stop offset="0.6" stop-color="#e2b318"/><stop offset="1" stop-color="#c8901a"/></linearGradient><linearGradient id="gc" x1="0" y1="0" x2="0" y2="1"><stop offset="0" stop-color="#ffffff"/><stop offset="1" stop-color="#b8c4dc"/></linearGradient><linearGradient id="gq" x1="0" y1="0" x2="0" y2="1"><stop offset="0" stop-color="#2ea0ff"/><stop offset="1" stop-color="#0a6ee0"/></linearGradient></defs>
<path d="M87.5,2.5 L96.5,8.5 L97.5,11 L90,16.5 L82.5,10.5 L86,7 Z" fill="url(#gb)" stroke="#9a6010" stroke-width="1"/>
<path d="M83.5,10.8 L89.8,15.3" stroke="#f6e6a8" stroke-width="1.3"/>
<path d="M90.5,15.5 L96.8,10.8" stroke="#e4dcc0" stroke-width="1"/>
<path d="M112,10 V2.5 L113.5,1.2 H121.5 L123,2.5 V10 Z" fill="url(#gq)" stroke="#0a5ac8" stroke-width="0.8"/>
<path d="M112.8,2.2 L115.5,4.5 V10" stroke="#d8f0ff" stroke-width="0.9" fill="none"/>
<rect x="117" y="5.5" width="5" height="1.6" fill="#e8f6ff"/>
<path d="M111.5,16.5 Q109.8,13.5 112.5,12.3 Q113.5,10 116.5,10.5 Q118.5,8.8 121,10 Q122,11.5 122.5,11.8 Q126.2,11.5 125.8,15 Q125.5,16.7 123.5,16.7 Z" fill="url(#gc)" stroke="#3a5896" stroke-width="1"/>
<path d="M146,16.8 A7.8,7.8 0 0 0 153.8,9 L146,9 Z" fill="#a8dca0"/>
<path d="M146,1.2 A7.8,7.8 0 0 0 146,16.8" fill="none" stroke="#5a82dc" stroke-width="1.1"/>
<path d="M146,1.2 A7.8,7.8 0 0 1 153.8,9" fill="none" stroke="#a8c8b0" stroke-width="1.1"/>
<path d="M153.8,9 A7.8,7.8 0 0 1 146,16.8" fill="none" stroke="#2a9a3a" stroke-width="1.1"/>
<path d="M146,4.3 A4.7,4.7 0 0 0 146,13.7" fill="none" stroke="#6a90e0" stroke-width="1"/>
<path d="M146,4.3 A4.7,4.7 0 0 1 150.7,9" fill="none" stroke="#b0d0c0" stroke-width="1"/>
<circle cx="145.9" cy="8.6" r="1.9" fill="#2a5cd0"/>
<path d="M146.3,9 V16.8" stroke="#1aa01a" stroke-width="1.4"/>
<path d="M165.5,8.5 L181.5,8.5 L173.5,17 Z" fill="#f4dc50" stroke="#caa020" stroke-width="0.8"/>
<ellipse cx="173" cy="6.2" rx="8" ry="2.6" fill="#6cbaf0" stroke="#2a80b8" stroke-width="0.9"/>
<path d="M169.8,6 Q170,1.3 173.2,1.2 Q176.3,1.3 176.5,6 Z" fill="#7cc4f0" stroke="#2a80b8" stroke-width="0.8"/>
<circle cx="177.6" cy="12.7" r="4.2" fill="#e02010" stroke="#a81008" stroke-width="0.6"/><rect x="176" y="11.1" width="3.2" height="3.2" fill="#fff"/>
<path d="M259.5,2.5 V17 M257,14.5 H271" stroke="#505050" stroke-width="1.2" fill="none"/>
<path d="M258,4 L259.5,2 L261,4 Z M270,13 L272,14.5 L270,16 Z" fill="#505050"/>
<path d="M263,11.3 H265.5 M265.5,4 V12.8 M265.5,5.3 H268.3" fill="none" stroke="#1a8a1a" stroke-width="1.1"/>
<path d="M287.5,2.5 V17 M285,14.5 H299" stroke="#505050" stroke-width="1.2" fill="none"/>
<path d="M286,4 L287.5,2 L289,4 Z M298,13 L300,14.5 L298,16 Z" fill="#505050"/>
<path d="M293.4,1 V12.7" stroke="#118811" stroke-width="1"/><rect x="291.4" y="3.3" width="4" height="7.5" fill="#40e040" stroke="#118811" stroke-width="0.9"/>
<path d="M315.5,2.5 V17 M313,14.5 H327" stroke="#505050" stroke-width="1.2" fill="none"/>
<path d="M314,4 L315.5,2 L317,4 Z M326,13 L328,14.5 L326,16 Z" fill="#505050"/>
<path d="M314.3,11.5 Q317.5,6 320,6 Q321.8,6.2 323.5,8.3 Q324.5,9.4 325.8,9.8" fill="none" stroke="#44aa44" stroke-width="1.1"/>
<path d="M354.6,11.5 L359.90000000000003,16.3" stroke="#a87818" stroke-width="3"/><path d="M354.6,11.5 L359.90000000000003,16.3" stroke="#f4dc60" stroke-width="1.4"/>
<circle cx="351.1" cy="7.1" r="5.5" fill="#dcf0fc" stroke="#3a7cc8" stroke-width="1.1"/>
<rect x="347.90000000000003" y="6.3" width="6.4" height="1.7" fill="#3a7aa8"/>
<rect x="350.25" y="4" width="1.7" height="6.3" fill="#3a7aa8"/>
<path d="M382.6,11.5 L387.90000000000003,16.3" stroke="#a87818" stroke-width="3"/><path d="M382.6,11.5 L387.90000000000003,16.3" stroke="#f4dc60" stroke-width="1.4"/>
<circle cx="379.1" cy="7.1" r="5.5" fill="#dcf0fc" stroke="#3a7cc8" stroke-width="1.1"/>
<rect x="375.90000000000003" y="6.3" width="6.4" height="1.7" fill="#3a7aa8"/>
<rect x="401" y="1" width="8" height="8" fill="#2f9a1f"/>
<rect x="402" y="4" width="6" height="4" fill="#f4f8ff"/>
<rect x="403" y="5.5" width="4" height="1" fill="#68c048"/>
<rect x="402" y="2" width="1" height="1" fill="#ffffff"/>
<rect x="409" y="1" width="8" height="8" fill="#1f4fd0"/>
<rect x="410" y="4" width="6" height="4" fill="#f4f8ff"/>
<rect x="411" y="5.5" width="4" height="1" fill="#5a8ef0"/>
<rect x="410" y="2" width="1" height="1" fill="#ffffff"/>
<rect x="401" y="9" width="8" height="8" fill="#1f4fd0"/>
<rect x="402" y="12" width="6" height="4" fill="#f4f8ff"/>
<rect x="403" y="13.5" width="4" height="1" fill="#5a8ef0"/>
<rect x="402" y="10" width="1" height="1" fill="#ffffff"/>
<rect x="409" y="9" width="8" height="8" fill="#2f9a1f"/>
<rect x="410" y="12" width="6" height="4" fill="#f4f8ff"/>
<rect x="411" y="13.5" width="4" height="1" fill="#68c048"/>
<rect x="410" y="10" width="1" height="1" fill="#ffffff"/>
<path d="M439.5,2.5 V17 M437,14.5 H451" stroke="#505050" stroke-width="1.2" fill="none"/>
<path d="M438,4 L439.5,2 L441,4 Z M450,13 L452,14.5 L450,16 Z" fill="#505050"/>
<path d="M444,4 L448,8 L444,12 Z" fill="#33cc33" stroke="#119911" stroke-width="0.8"/>
<path d="M467.5,2.5 V17 M465,14.5 H479" stroke="#505050" stroke-width="1.2" fill="none"/>
<path d="M466,4 L467.5,2 L469,4 Z M478,13 L480,14.5 L478,16 Z" fill="#505050"/>
<rect x="473" y="3" width="1.2" height="10" fill="#1a6aaa"/><path d="M479,8 H475 M477,6 L474.5,8 L477,10" stroke="#e04010" stroke-width="1.2" fill="none"/>
<path d="M498.5,1.5 H506 L509,4.5 V14.5 H498.5 Z" fill="#fff" stroke="#707070" stroke-width="1"/>
<path d="M503.5,4 Q502,4 502,6 V12 Q502,13 501,13 M500.5,8 H504" stroke="#404030" stroke-width="0.9" fill="none"/>
<path d="M506.5,7.5 H509.5 V11.5 H513.5 V14.5 H509.5 V18.5 H506.5 V14.5 H502.5 V11.5 H506.5 Z" fill="#30e030" stroke="#108a10" stroke-width="1"/>
<path d="M520,8 H526 L523,11 Z" fill="#000"/>
<path d="M559,8 H565 L562,11 Z" fill="#000"/>
<path d="M598,8 H604 L601,11 Z" fill="#000"/>
<path d="M904,8 H910 L907,11 Z" fill="#000"/>
<defs><radialGradient id="gclk" cx="0.4" cy="0.35" r="0.7"><stop offset="0" stop-color="#5ab4ff"/><stop offset="0.7" stop-color="#1a78d8"/><stop offset="1" stop-color="#0a4a98"/></radialGradient></defs>
<circle cx="544" cy="9" r="7.8" fill="url(#gclk)"/><circle cx="544" cy="9" r="5.4" fill="#f8f8f8"/>
<circle cx="544.00" cy="4.70" r="0.45" fill="#909090"/>
<circle cx="546.15" cy="5.28" r="0.45" fill="#909090"/>
<circle cx="547.72" cy="6.85" r="0.45" fill="#909090"/>
<circle cx="548.30" cy="9.00" r="0.45" fill="#909090"/>
<circle cx="547.72" cy="11.15" r="0.45" fill="#909090"/>
<circle cx="546.15" cy="12.72" r="0.45" fill="#909090"/>
<circle cx="544.00" cy="13.30" r="0.45" fill="#909090"/>
<circle cx="541.85" cy="12.72" r="0.45" fill="#909090"/>
<circle cx="540.28" cy="11.15" r="0.45" fill="#909090"/>
<circle cx="539.70" cy="9.00" r="0.45" fill="#909090"/>
<circle cx="540.28" cy="6.85" r="0.45" fill="#909090"/>
<circle cx="541.85" cy="5.28" r="0.45" fill="#909090"/>
<path d="M543.5,5 L543.8,9 L547,8.8" stroke="#202020" stroke-width="1.2" fill="none"/>
<rect x="575.5" y="2" width="15.3" height="13.6" fill="#fff" stroke="#3a78c8" stroke-width="1"/><rect x="576" y="2.5" width="14.3" height="2.2" fill="#6aa8e8"/><rect x="577" y="3" width="6" height="0.8" fill="#d8ecff"/><rect x="576" y="10" width="14.3" height="1" fill="#3a78c8"/>
<path d="M577.2,8.5 H578.5 L580,7.3 H581 L582.5,6.3 L584,7.5 H585 L586.5,6.3 H588" stroke="#a02010" stroke-width="1.1" fill="none"/><path d="M578,13.5 L580,12.5 L582,13.3 L584,12.3 L586,11.2 L588.5,13.6" stroke="#20902a" stroke-width="1.1" fill="none"/>
<path d="M627,1.5 L635,9 L631.5,9.5 L633.5,14 L631.5,15 L629.5,10.5 L627,13 Z" fill="#505050"/>
<path d="M659.5,2 V8 M659.5,11 V17 M652,9.5 H658 M661,9.5 H667" stroke="#404040" stroke-width="1.1"/>
<rect x="693" y="3" width="1.2" height="13" fill="#404040"/>
<rect x="716" y="9" width="12" height="1.2" fill="#404040"/>
<path d="M743.5,16 L756,3.5" stroke="#404040" stroke-width="1.2"/>
<path d="M770.5,12.5 L782,1.5 M772.5,15.5 L784,4.5" stroke="#404040" stroke-width="1" fill="none"/>
<path d="M772.5,9 L775,12.3 M775.5,6.3 L778,9.5 M778.5,3.5 L781,6.8" stroke="#404040" stroke-width="1" fill="none"/>
<text x="780.5" y="18" font-size="7" font-weight="bold" fill="#404040" stroke="#404040">E</text>
<path d="M799,2.5 H812" stroke="#505050" stroke-width="1" stroke-dasharray="1,1"/>
<path d="M799,5.5 H812" stroke="#505050" stroke-width="1" stroke-dasharray="1,1"/>
<path d="M799,9.5 H812" stroke="#505050" stroke-width="1" stroke-dasharray="1,1"/>
<path d="M799,13.5 H812" stroke="#505050" stroke-width="1" stroke-dasharray="1,1"/>
<text x="808.5" y="18" font-size="7" font-weight="bold" fill="#404040" stroke="#404040">F</text>
<text x="829.6" y="13.8" font-size="11.5" font-weight="bold" fill="#555555" textLength="7.6" lengthAdjust="spacingAndGlyphs" stroke="#555555">A</text>
<rect x="856" y="3.5" width="11.5" height="12" fill="none" stroke="#606060" stroke-width="1" stroke-dasharray="1,1"/>
<rect x="855" y="2" width="2" height="2" fill="#505050"/>
<path d="M858.5,6.5 H865 M861.7,6.5 V14" stroke="#505050" stroke-width="1.6"/>
<path d="M883,6 L886.5,2.5 L890,6 L886.5,7.5 Z M890.5,12 L894,10.5 L897.5,12 L894,15.5 Z" fill="#505050"/><path d="M885.5,9.5 L888,12 L892,8" stroke="#505050" stroke-width="1.3" fill="none"/>
<circle cx="1646.6" cy="6.4" r="3.8" fill="#f0f2ff" stroke="#2a62d0" stroke-width="1.2"/><path d="M1640.5,14 L1643.8,10.3" stroke="#2a62d0" stroke-width="2.2"/>
<ellipse cx="1668.5" cy="10.5" rx="5.8" ry="4.3" fill="#e8e8ee" stroke="#a0a0a0" stroke-width="0.9"/><path d="M1666,14 L1665.5,17.5 L1669,14.5" fill="#c8c8c8"/>
<circle cx="1677.4" cy="6.8" r="8" fill="#e03018"/>
<text x="1674" y="11" font-size="11" fill="#fff" stroke="#fff">1</text>
</g>
<g font-size="10" fill="#404040">
<text x="930.8" y="13" textLength="12.4" lengthAdjust="spacingAndGlyphs" stroke="#404040" style="stroke-width:0.08px">M1</text>
<text x="958.8" y="13" textLength="12.6" lengthAdjust="spacingAndGlyphs" stroke="#404040" style="stroke-width:0.08px">M5</text>
<text x="985.0" y="13" textLength="17.3" lengthAdjust="spacingAndGlyphs" stroke="#404040" style="stroke-width:0.08px">M15</text>
<text x="1012.6" y="13" textLength="17.7" lengthAdjust="spacingAndGlyphs" stroke="#404040" style="stroke-width:0.08px">M30</text>
<text x="1043.8" y="13" textLength="11.4" lengthAdjust="spacingAndGlyphs" stroke="#404040" style="stroke-width:0.08px">H1</text>
<text x="1070.7" y="13" textLength="12.2" lengthAdjust="spacingAndGlyphs" stroke="#404040" style="stroke-width:0.08px">H4</text>
<text x="1099.7" y="13" textLength="11.5" lengthAdjust="spacingAndGlyphs" stroke="#404040" style="stroke-width:0.08px">D1</text>
<text x="1126.9" y="13" textLength="14.1" lengthAdjust="spacingAndGlyphs" stroke="#404040" style="stroke-width:0.08px">W1</text>
<text x="1153.8" y="13" textLength="14.6" lengthAdjust="spacingAndGlyphs" stroke="#404040" style="stroke-width:0.08px">MN</text>
</g>
</svg></body></html>
